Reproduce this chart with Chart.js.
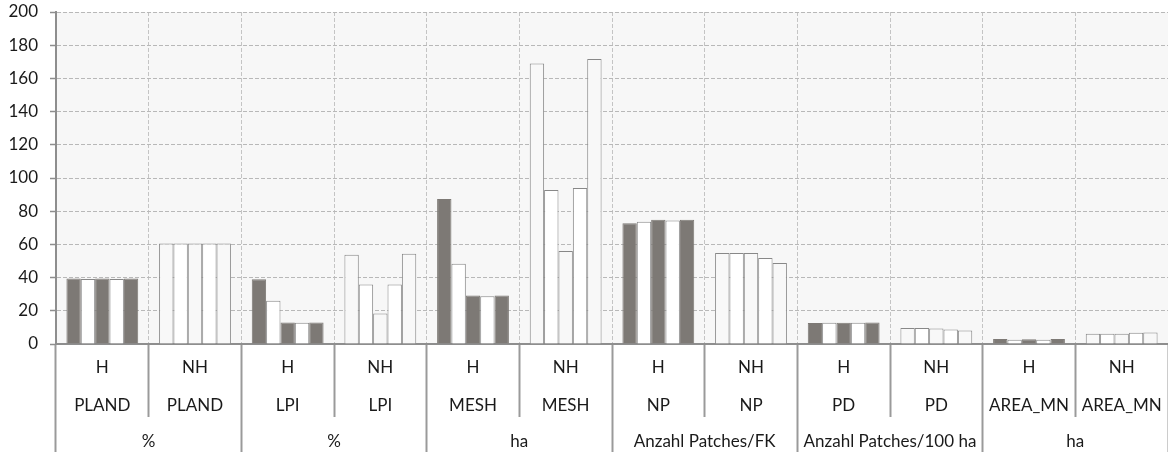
<!DOCTYPE html>
<html>
<head>
<meta charset="utf-8">
<script src="https://cdn.jsdelivr.net/npm/chart.js@4/dist/chart.umd.min.js"></script>
<style>
  html, body { margin: 0; padding: 0; background: #ffffff; }
  #wrap { width: 1168px; height: 452px; position: relative; }
</style>
</head>
<body>
<div id="wrap"><canvas id="c"></canvas></div>
<script>
// Landscape metrics per habitat type (H) and non-habitat (NH)
const groups = ['H', 'NH', 'H', 'NH', 'H', 'NH', 'H', 'NH', 'H', 'NH', 'H', 'NH'];
const metrics = ['PLAND', 'PLAND', 'LPI', 'LPI', 'MESH', 'MESH', 'NP', 'NP', 'PD', 'PD', 'AREA_MN', 'AREA_MN'];
const units = ['%', '%', 'ha', 'Anzahl Patches/FK', 'Anzahl Patches/100 ha', 'ha'];

// Five variants per metric
const series1 = [39.5, 60.5, 39.0, 53.8, 87.4, 169.0, 72.8, 54.8, 12.6, 9.6, 3.0, 6.2];
const series2 = [39.2, 60.5, 26.0, 35.8, 48.4, 92.8, 73.6, 54.8, 12.8, 9.6, 2.6, 6.2];
const series3 = [39.5, 60.5, 13.0, 18.4, 29.2, 56.0, 74.8, 54.8, 12.8, 9.4, 2.8, 6.2];
const series4 = [39.2, 60.5, 12.8, 35.8, 28.8, 94.0, 74.4, 51.8, 12.8, 8.8, 2.6, 6.8];
const series5 = [39.5, 60.5, 13.0, 54.4, 29.2, 171.7, 74.8, 48.8, 13.0, 8.2, 3.0, 7.0];

const yTicks = [0, 20, 40, 60, 80, 100, 120, 140, 160, 180, 200];

const FONT = { family: 'Lato', size: 17 };
const DARK = '#7d7975';
const LIGHT = '#f8f8f8';
const EDGE = '#888888';

const categoryLabels = groups.map((g, i) => [g, metrics[i]]);

function oddSeries(label, data) {
  return {
    label, data,
    backgroundColor: groups.map(g => g === 'H' ? DARK : LIGHT),
    borderColor: groups.map(g => g === 'H' ? DARK : EDGE),
    borderWidth: 1
  };
}
function evenSeries(label, data) {
  return { label, data, backgroundColor: '#ffffff', borderColor: EDGE, borderWidth: 1 };
}

const plotBackground = {
  id: 'plotBackground',
  beforeDraw(chart) {
    const { ctx, chartArea: a } = chart;
    ctx.save();
    ctx.fillStyle = '#f7f7f7';
    ctx.fillRect(a.left, a.top, a.right - a.left, a.bottom - a.top);
    ctx.restore();
  }
};

new Chart(document.getElementById('c'), {
  type: 'bar',
  data: {
    labels: categoryLabels,
    datasets: [
      oddSeries('1', series1),
      evenSeries('2', series2),
      oddSeries('3', series3),
      evenSeries('4', series4),
      oddSeries('5', series5)
    ]
  },
  options: {
    responsive: true,
    maintainAspectRatio: false,
    animation: false,
    events: [],
    layout: { padding: 0 },
    datasets: { bar: { categoryPercentage: 0.775, barPercentage: 1.0 } },
    plugins: { legend: { display: false }, tooltip: { enabled: false } },
    scales: {
      x: {
        type: 'category',
        position: 'bottom',
        weight: 0,
        offset: true,
        grid: {
          offset: true,
          color: '#c4c4c4',
          lineWidth: 1,
          drawTicks: true,
          tickLength: 73,
          tickColor: '#9a9a9a',
          tickWidth: 2,
          tickBorderDash: []
        },
        border: { display: true, color: '#8e8e8e', width: 2, dash: [4, 2] },
        ticks: {
          font: { ...FONT, lineHeight: 38 / 17 },
          color: '#1a1a1a',
          padding: -68,
          autoSkip: false,
          maxRotation: 0,
          minRotation: 0
        },
        afterFit(scale) { scale.height = 73; }
      },
      x2: {
        type: 'category',
        position: 'bottom',
        weight: 1,
        labels: units,
        offset: true,
        grid: {
          offset: true,
          drawOnChartArea: false,
          drawTicks: true,
          tickLength: 35,
          tickColor: '#9a9a9a',
          tickWidth: 2,
          tickBorderDash: []
        },
        border: { display: false },
        ticks: {
          font: FONT,
          color: '#1a1a1a',
          padding: -21,
          autoSkip: false,
          maxRotation: 0,
          minRotation: 0
        },
        afterFit(scale) { scale.height = 35; }
      },
      y: {
        min: 0,
        max: 200,
        afterBuildTicks(scale) { scale.ticks = yTicks.map(v => ({ value: v })); },
        grid: {
          color: '#b8b8b8',
          lineWidth: 1,
          drawTicks: true,
          tickLength: 6,
          tickColor: '#8e8e8e',
          tickWidth: 1.5,
          tickBorderDash: []
        },
        border: { display: true, color: '#8e8e8e', width: 2, dash: [4, 2] },
        ticks: { font: FONT, color: '#1a1a1a', padding: 12 },
        afterFit(scale) {
          scale.width = 56;
          scale.paddingTop = 12;
          scale.paddingBottom = 0;
        }
      }
    }
  },
  plugins: [plotBackground]
});
</script>
</body>
</html>
